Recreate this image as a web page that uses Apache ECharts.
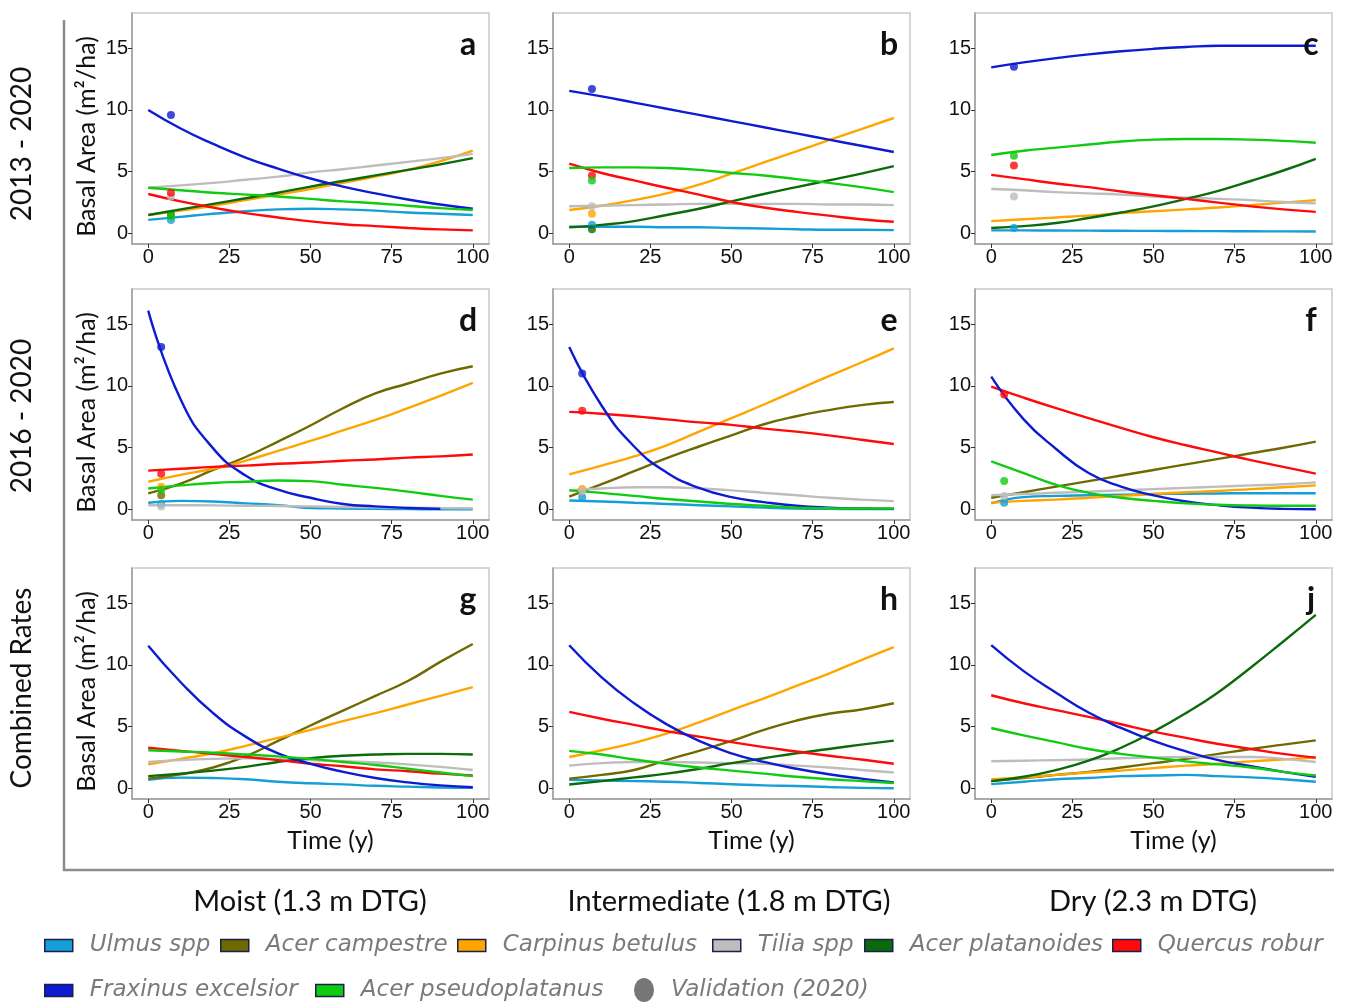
<!DOCTYPE html>
<html>
<head>
<meta charset="utf-8">
<script src="https://cdn.jsdelivr.net/npm/echarts@6.0.0/dist/echarts.min.js"></script>
<style>
  html, body { margin: 0; padding: 0; background: #fff; }
  #chart { width: 1346px; height: 1002px; }
</style>
</head>
<body>
<div id="chart"></div>
<script>
// simulated years
const years = [0, 10, 20, 30, 40, 50, 60, 70, 80, 90, 100]
const species = ['Ulmus spp', 'Acer campestre', 'Carpinus betulus', 'Tilia spp',
  'Acer platanoides', 'Quercus robur', 'Fraxinus excelsior', 'Acer pseudoplatanus']
const speciesColors = ['#159fd6', '#6f6a00', '#ffa500', '#bdbdbd', '#0b6b0b', '#ff0a0a', '#0d1bd1', '#10cc10']
const xTicks = [0, 25, 50, 75, 100]
const yTicks = [0, 5, 10, 15]
const panelLetters = ['a', 'b', 'c', 'd', 'e', 'f', 'g', 'h', 'j']
const rowLabels = ['2013 - 2020', '2016 - 2020', 'Combined Rates']
const colLabels = ['Moist (1.3 m DTG)', 'Intermediate (1.8 m DTG)', 'Dry (2.3 m DTG)']

// basal area per panel, one row per species (same order as `species`), null = not present
const panelA = [
  [1.1, 1.35, 1.6, 1.8, 1.95, 2.0, 1.95, 1.85, 1.7, 1.6, 1.5],
  null,
  [1.5, 1.85, 2.25, 2.7, 3.15, 3.6, 4.1, 4.6, 5.15, 5.85, 6.7],
  [3.7, 3.9, 4.1, 4.35, 4.6, 4.95, 5.2, 5.5, 5.8, 6.1, 6.45],
  [1.5, 1.95, 2.4, 2.85, 3.3, 3.8, 4.25, 4.7, 5.15, 5.6, 6.1],
  [3.2, 2.6, 2.1, 1.65, 1.3, 0.98, 0.75, 0.6, 0.45, 0.33, 0.25],
  [10.0, 8.5, 7.25, 6.15, 5.25, 4.45, 3.8, 3.25, 2.75, 2.35, 2.0],
  [3.7, 3.5, 3.3, 3.15, 3.0, 2.8, 2.6, 2.45, 2.25, 2.05, 1.9]
]
const panelB = [
  [0.55, 0.55, 0.55, 0.5, 0.5, 0.45, 0.4, 0.35, 0.3, 0.3, 0.27],
  null,
  [1.9, 2.25, 2.7, 3.25, 3.95, 4.85, 5.75, 6.65, 7.55, 8.45, 9.35],
  [2.2, 2.25, 2.3, 2.35, 2.4, 2.4, 2.4, 2.4, 2.35, 2.35, 2.3],
  [0.5, 0.7, 1.0, 1.5, 2.0, 2.6, 3.2, 3.75, 4.3, 4.85, 5.45],
  [5.65, 4.9, 4.3, 3.7, 3.15, 2.55, 2.1, 1.75, 1.45, 1.15, 0.95],
  [11.55, 11.1, 10.6, 10.1, 9.6, 9.1, 8.6, 8.1, 7.6, 7.1, 6.6],
  [5.3, 5.35, 5.35, 5.3, 5.15, 4.9, 4.7, 4.4, 4.1, 3.75, 3.35]
]
const panelC = [
  [0.25, 0.25, 0.24, 0.23, 0.22, 0.21, 0.2, 0.19, 0.18, 0.17, 0.16],
  null,
  [1.0, 1.15, 1.3, 1.45, 1.65, 1.8, 1.95, 2.1, 2.3, 2.5, 2.7],
  [3.6, 3.5, 3.35, 3.25, 3.15, 3.0, 2.9, 2.8, 2.7, 2.55, 2.45],
  [0.45, 0.6, 0.85, 1.25, 1.7, 2.2, 2.8, 3.45, 4.25, 5.1, 6.05],
  [4.75, 4.4, 4.05, 3.75, 3.4, 3.1, 2.8, 2.5, 2.2, 1.95, 1.75],
  [13.45, 13.85, 14.2, 14.5, 14.75, 14.95, 15.1, 15.2, 15.2, 15.2, 15.2],
  [6.35, 6.7, 6.95, 7.2, 7.45, 7.6, 7.65, 7.65, 7.6, 7.5, 7.35]
]
const panelD = [
  [0.55, 0.7, 0.65, 0.5, 0.35, 0.12, 0.08, 0.05, 0.03, 0.02, 0.02],
  [1.3, 2.1, 3.2, 4.25, 5.5, 6.8, 8.2, 9.4, 10.2, 11.0, 11.6],
  [2.25, 2.8, 3.3, 3.95, 4.75, 5.55, 6.4, 7.25, 8.2, 9.2, 10.25],
  [0.35, 0.35, 0.33, 0.3, 0.28, 0.25, 0.2, 0.18, 0.15, 0.12, 0.1],
  null,
  [3.15, 3.3, 3.45, 3.55, 3.7, 3.8, 3.95, 4.05, 4.2, 4.3, 4.45],
  [16.1, 8.9, 4.95, 2.75, 1.6, 0.95, 0.45, 0.25, 0.12, 0.05, null],
  [1.7, 1.95, 2.15, 2.25, 2.35, 2.3, 2.0, 1.75, 1.45, 1.1, 0.8]
]
const panelE = [
  [0.73, 0.65, 0.55, 0.45, 0.35, 0.25, 0.15, 0.08, 0.05, 0.03, 0.03],
  [1.05, 2.05, 3.1, 4.15, 5.1, 6.0, 6.9, 7.55, 8.05, 8.45, 8.7],
  [2.85, 3.55, 4.3, 5.2, 6.3, 7.4, 8.5, 9.65, 10.8, 11.9, 13.05],
  [1.55, 1.7, 1.8, 1.8, 1.7, 1.55, 1.35, 1.15, 0.95, 0.8, 0.68],
  null,
  [7.9, 7.75, 7.55, 7.3, 7.05, 6.85, 6.55, 6.3, 6.0, 5.65, 5.3],
  [13.15, 8.4, 5.1, 3.0, 1.75, 1.0, 0.6, 0.3, 0.15, 0.08, 0.05],
  [1.55, 1.35, 1.1, 0.85, 0.65, 0.45, 0.3, 0.15, 0.1, 0.08, 0.08]
]
const panelF = [
  [0.5, 1.0, 1.1, 1.15, 1.2, 1.25, 1.28, 1.3, 1.32, 1.32, 1.32],
  [0.95, 1.4, 1.85, 2.3, 2.75, 3.2, 3.65, 4.1, 4.55, 5.0, 5.5],
  [0.55, 0.7, 0.8, 0.95, 1.1, 1.25, 1.4, 1.5, 1.65, 1.8, 1.95],
  [1.15, 1.25, 1.35, 1.45, 1.55, 1.65, 1.75, 1.85, 1.95, 2.05, 2.2],
  null,
  [9.95, 9.05, 8.2, 7.4, 6.6, 5.85, 5.2, 4.6, 4.0, 3.45, 2.9],
  [10.75, 7.3, 4.9, 2.95, 1.85, 1.15, 0.65, 0.35, 0.15, 0.05, 0.02],
  [3.9, 2.95, 2.0, 1.35, 0.95, 0.7, 0.5, 0.38, 0.32, 0.3, 0.3]
]
const panelG = [
  [0.7, 0.88, 0.85, 0.75, 0.55, 0.42, 0.33, 0.22, 0.15, 0.08, 0.05],
  [0.8, 1.15, 1.7, 2.6, 3.85, 5.1, 6.3, 7.5, 8.7, 10.25, 11.7],
  [1.95, 2.4, 2.85, 3.45, 4.1, 4.75, 5.45, 6.1, 6.8, 7.5, 8.2],
  [2.15, 2.3, 2.4, 2.45, 2.4, 2.3, 2.2, 2.1, 1.95, 1.75, 1.5],
  [1.0, 1.2, 1.45, 1.75, 2.15, 2.45, 2.65, 2.75, 2.8, 2.8, 2.75],
  [3.3, 3.05, 2.8, 2.55, 2.3, 2.0, 1.8, 1.55, 1.4, 1.2, 1.05],
  [11.55, 8.6, 6.1, 4.2, 2.85, 2.0, 1.35, 0.85, 0.5, 0.25, 0.1],
  [3.1, 3.0, 2.9, 2.75, 2.6, 2.4, 2.15, 1.9, 1.6, 1.3, 1.0]
]
const panelH = [
  [0.7, 0.65, 0.6, 0.55, 0.45, 0.35, 0.25, 0.2, 0.12, 0.05, 0.02],
  [0.8, 1.1, 1.5, 2.3, 3.05, 3.85, 4.75, 5.5, 6.05, 6.4, 6.9],
  [2.55, 3.1, 3.7, 4.45, 5.35, 6.35, 7.3, 8.3, 9.3, 10.4, 11.45],
  [1.85, 2.05, 2.15, 2.15, 2.1, 2.05, 2.0, 1.85, 1.7, 1.5, 1.3],
  [0.32, 0.6, 0.9, 1.2, 1.6, 2.05, 2.45, 2.85, 3.2, 3.55, 3.88],
  [6.2, 5.65, 5.15, 4.65, 4.2, 3.75, 3.35, 3.0, 2.65, 2.35, 2.0],
  [11.6, 9.0, 6.9, 5.2, 3.85, 2.85, 2.15, 1.6, 1.15, 0.8, 0.5],
  [3.05, 2.75, 2.35, 2.0, 1.7, 1.45, 1.2, 0.95, 0.75, 0.6, 0.45]
]
const panelJ = [
  [0.35, 0.55, 0.75, 0.85, 1.0, 1.05, 1.1, 1.0, 0.9, 0.75, 0.55],
  [0.6, 0.85, 1.1, 1.35, 1.7, 2.05, 2.4, 2.8, 3.2, 3.55, 3.9],
  [0.75, 0.9, 1.1, 1.3, 1.45, 1.65, 1.85, 2.0, 2.2, 2.35, 2.5],
  [2.2, 2.25, 2.3, 2.35, 2.45, 2.5, 2.55, 2.55, 2.55, 2.4, 2.15],
  [0.6, 0.95, 1.5, 2.25, 3.3, 4.6, 6.1, 7.8, 9.8, 11.9, 14.05],
  [7.55, 6.9, 6.35, 5.8, 5.2, 4.6, 4.1, 3.6, 3.2, 2.8, 2.5],
  [11.6, 9.5, 7.75, 6.15, 4.9, 3.85, 3.0, 2.3, 1.8, 1.35, 0.95],
  [4.9, 4.3, 3.75, 3.2, 2.8, 2.5, 2.2, 1.95, 1.7, 1.35, 1.05]
]
const panels = [panelA, panelB, panelC, panelD, panelE, panelF, panelG, panelH, panelJ]

// 2020 field measurements (same species order), plotted at the year they correspond to
const validationYear = [7, 4, null]
const validA = [1.1, null, null, 3.0, 1.5, 3.3, 9.6, 1.4]
const validB = [0.7, null, 1.6, 2.2, 0.35, 4.7, 11.7, 4.3]
const validC = [0.45, null, null, 3.0, null, 5.5, 13.5, 6.3]
const validD = [0.45, 1.15, 1.85, 0.25, null, 2.9, 13.15, 1.6]
const validE = [1.0, null, 1.65, 1.5, null, 8.0, 11.0, null]
const validF = [0.55, null, null, 1.1, null, 9.3, null, 2.3]
const validation = [validA, validB, validC, validD, validE, validF, null, null, null]

const chart = echarts.init(document.getElementById('chart'))

const colLeft = [132, 553, 975]
const rowTop = [13, 289, 568]
const cellW = 357
const cellH = 231
const tickFont = 'Liberation Sans'
const labelFont = 'Lato'

const grids = []
const xAxes = []
const yAxes = []
const series = []
const graphics = []

panels.forEach((panel, i) => {
  const row = Math.floor(i / 3)
  const col = i % 3
  grids.push({
    left: colLeft[col], top: rowTop[row], width: cellW, height: cellH,
    show: true, borderColor: '#c9c9c9', borderWidth: 1.5, outerBoundsMode: 'none',
  })
  xAxes.push({
    type: 'value', gridIndex: i, min: -5, max: 105,
    axisLine: { show: true, onZero: false, lineStyle: { color: '#9d9d9d', width: 1.5 } },
    axisTick: { show: true, length: 4, customValues: xTicks, lineStyle: { color: '#333' } },
    axisLabel: { customValues: xTicks, color: '#111', fontSize: 20, fontFamily: tickFont, margin: 3 },
    splitLine: { show: false },
    name: row === 2 ? 'Time (y)' : '',
    nameLocation: 'middle', nameGap: 29,
    nameTextStyle: { fontSize: 25, fontFamily: labelFont, color: '#111', padding: [0, 0, 0, 40] },
  })
  yAxes.push({
    type: 'value', gridIndex: i, min: -0.85, max: 17.85,
    axisLine: { show: true, onZero: false, lineStyle: { color: '#9d9d9d', width: 1.5 } },
    axisTick: { show: true, length: 4, customValues: yTicks, lineStyle: { color: '#333' } },
    axisLabel: { customValues: yTicks, color: '#111', fontSize: 20, fontFamily: tickFont, margin: 4 },
    splitLine: { show: false },
    name: col === 0 ? 'Basal Area (m²/ha)' : '',
    nameLocation: 'middle', nameGap: 33, nameRotate: 90,
    nameTextStyle: { fontSize: 25, fontFamily: labelFont, color: '#111', padding: [0, 16, 0, 0] },
  })

  panel.forEach((vals, s) => {
    if (!vals) return
    series.push({
      type: 'line', name: species[s], xAxisIndex: i, yAxisIndex: i,
      data: years.map((t, k) => [t, vals[k]]),
      showSymbol: false, smooth: 0.5,
      color: speciesColors[s],
      lineStyle: { width: 2.4, color: speciesColors[s] },
      emphasis: { disabled: true }, z: 2,
    })
  })

  const valid = validation[i]
  if (valid) {
    series.push({
      type: 'scatter', name: 'Validation (2020)', xAxisIndex: i, yAxisIndex: i,
      symbolSize: 8, color: '#555', z: 3,
      data: valid.map((v, s) => v == null ? null : { value: [validationYear[row], v], itemStyle: { color: speciesColors[s] } })
        .filter(Boolean),
      emphasis: { disabled: true },
    })
  }

  graphics.push({
    type: 'text', x: colLeft[col] + cellW - 21, y: rowTop[row] + 32, z: 10,
    style: { text: panelLetters[i], font: 'bold 32px Lato', fill: '#111', textAlign: 'center', textVerticalAlign: 'middle' },
  })
})

// row labels on the left, column labels underneath
const rowLabelY = [144, 416, 688]
rowLabels.forEach((txt, r) => {
  graphics.push({
    type: 'text', x: 22, y: rowLabelY[r], rotation: Math.PI / 2,
    style: { text: txt, font: '28px Lato', fill: '#111', textAlign: 'center', textVerticalAlign: 'middle' },
  })
})
colLabels.forEach((txt, c) => {
  graphics.push({
    type: 'text', x: [310, 729, 1153][c], y: 902,
    style: { text: txt, font: '29px Lato', fill: '#111', textAlign: 'center', textVerticalAlign: 'middle' },
  })
})
graphics.push({
  type: 'polyline', shape: { points: [[64, 20], [64, 870], [1334, 870]] },
  style: { stroke: '#8c8c8c', lineWidth: 2.5, fill: null },
})

// legend: one component per entry so each can sit where it does in the figure
const legendSpots = [
  [44, 934], [220, 934], [457, 934], [712, 934], [864, 934], [1112, 934], [44, 979], [315, 979],
]
const legendText = { fontFamily: 'DejaVu Sans', fontStyle: 'italic', fontSize: 23, color: '#7a7a7a', padding: [0, 0, 0, 12] }
const legends = species.map((name, s) => ({
  data: [{ name, icon: 'rect', itemStyle: { color: speciesColors[s], borderColor: '#1b1f4d', borderWidth: 1.5 } }],
  left: legendSpots[s][0], top: legendSpots[s][1], padding: 0,
  itemWidth: 28, itemHeight: 12, selectedMode: false, textStyle: legendText,
}))
legends.push({
  data: [{ name: 'Validation (2020)', icon: 'path://M10,0 A10,12 0 1,1 10,24 A10,12 0 1,1 10,0 Z', itemStyle: { color: '#555' } }],
  left: 634, top: 978, padding: 0, itemWidth: 20, itemHeight: 24, selectedMode: false,
  textStyle: legendText,
})

chart.setOption({
  animation: false,
  backgroundColor: '#fff',
  grid: grids,
  xAxis: xAxes,
  yAxis: yAxes,
  legend: legends,
  series,
  graphic: graphics,
})
</script>
</body>
</html>
